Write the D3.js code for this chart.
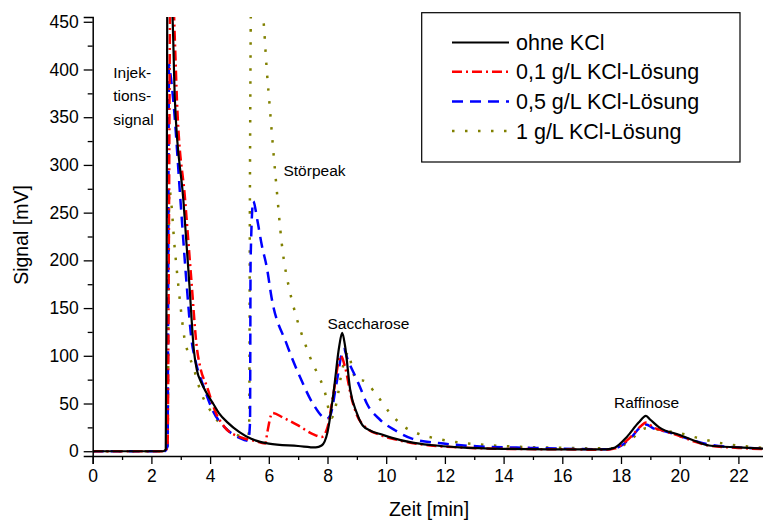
<!DOCTYPE html>
<html>
<head>
<meta charset="utf-8">
<script src="https://cdn.jsdelivr.net/npm/d3@7"></script>
<style>
  body { margin: 0; background: #fff; }
  svg { display: block; font-family: "Liberation Sans", Arial, sans-serif; }
</style>
</head>
<body>
<svg id="chart" width="763" height="522"></svg>
<script>
// chromatogram traces, [time in min, signal in mV]
const ohneKCl = [
  [0, 0], [2.4, 0], [2.49, 2], [2.52, 200], [2.54, 470], [2.66, 480], [2.72, 455],
  [2.8, 368], [3.09, 263], [3.3, 172], [3.45, 105], [3.55, 85], [3.7, 72], [3.88, 61],
  [4.1, 50], [4.3, 40], [4.6, 30], [5.0, 20], [5.4, 13], [6.0, 8], [7.0, 5.5], [7.6, 4],
  [7.8, 6], [8.0, 20], [8.2, 60], [8.4, 110], [8.5, 124], [8.6, 110], [8.77, 65],
  [9.0, 40], [9.2, 27], [9.5, 21], [9.8, 18], [10.2, 14], [10.9, 9], [11.5, 6.5],
  [12.5, 4], [14, 2.5], [16, 2], [17.5, 2], [17.8, 4], [18.2, 15], [18.6, 30],
  [18.85, 37], [19.0, 33], [19.3, 25], [20, 17], [20.5, 11], [21, 6], [22, 4], [23, 2.5]
];
const kcl01 = [
  [0, 0], [2.45, 0], [2.55, 5], [2.6, 250], [2.64, 470], [2.74, 475], [2.8, 430],
  [2.87, 368], [3.15, 263], [3.36, 180], [3.55, 108], [3.65, 90], [3.9, 67], [4.2, 40],
  [4.5, 25], [5.0, 15], [5.5, 11], [5.88, 8], [5.95, 20], [6.12, 40], [6.5, 35],
  [7.0, 27], [7.5, 18], [7.8, 15], [8.0, 25], [8.2, 60], [8.45, 100], [8.6, 88],
  [8.8, 58], [9.0, 38], [9.3, 25], [9.8, 17], [10.5, 11], [11.5, 6], [12.5, 4],
  [14, 2.5], [16, 2], [17.5, 1.5], [17.8, 3], [18.3, 14], [18.7, 27], [18.85, 30],
  [19.1, 25], [19.5, 21], [20, 16], [20.5, 10], [21, 6], [22, 3.5], [23, 2]
];
const kcl05 = [
  [0, 0], [2.45, 0], [2.55, 5], [2.6, 405], [2.65, 395], [2.75, 366], [2.99, 263],
  [3.2, 175], [3.37, 116], [3.5, 95], [3.8, 66], [4.1, 42], [4.5, 25], [5.0, 14],
  [5.3, 11], [5.36, 30], [5.38, 200], [5.47, 262], [5.61, 242], [5.76, 216],
  [5.93, 193], [6.1, 160], [6.6, 113], [7.06, 78], [7.5, 50], [7.97, 34], [8.1, 38],
  [8.3, 70], [8.55, 107], [8.7, 95], [9.0, 75], [9.11, 67], [9.34, 50], [9.79, 33],
  [10.3, 22], [10.9, 13], [11.95, 8], [13.2, 5], [14.9, 3.5], [17.5, 2], [17.8, 3],
  [18.3, 13], [18.7, 26], [18.85, 28], [19.1, 24], [19.5, 21], [20, 16], [20.5, 11],
  [21, 7], [22, 4], [23, 2.5]
];
const kcl1 = [
  [0, 0], [2.45, 0], [2.55, 3], [2.61, 274], [2.8, 211], [2.97, 158], [3.14, 116],
  [3.25, 103], [3.43, 88], [3.66, 64], [4.0, 43], [4.34, 29], [4.78, 19], [5.25, 15],
  [5.33, 20], [5.36, 300], [5.4, 480], [5.7, 480], [5.81, 455], [5.93, 400],
  [6.04, 358], [6.15, 316], [6.27, 274], [6.44, 218], [6.72, 167], [6.83, 153],
  [7.4, 99], [7.91, 62], [8.14, 35], [8.3, 50], [8.5, 85], [8.71, 104], [8.85, 85],
  [9.0, 74], [9.2, 74], [9.67, 59], [10.13, 40], [10.6, 26], [11.04, 19], [11.83, 12.5],
  [13.2, 7], [14.3, 5], [16, 3.5], [17.6, 3], [18, 5], [18.4, 14], [18.85, 24],
  [19.2, 23], [19.6, 21], [20.0, 19], [20.6, 14], [21.5, 8], [22.3, 5], [23, 3]
];

const seriesNames = ["ohne KCl", "0,1 g/L KCl-Lösung", "0,5 g/L KCl-Lösung", "1 g/L KCl-Lösung"];
const seriesData = [ohneKCl, kcl01, kcl05, kcl1];

const xTicks = d3.range(0, 24, 1);
const yTicks = d3.range(0, 451, 25);

const peakLabels = [
  { lines: ["Injek-", "tions-", "signal"], t: 0.7, v: 397 },
  { lines: ["Störpeak"], t: 6.5, v: 294 },
  { lines: ["Saccharose"], t: 8.0, v: 134 },
  { lines: ["Raffinose"], t: 17.76, v: 51 }
];

const styles = [
  { color: "#000000", dash: null, width: 2.2 },
  { color: "#ff0000", dash: "10,4,2,4", width: 2.5 },
  { color: "#0000ff", dash: "11,7", width: 2.5 },
  { color: "#808000", dash: "2.5,10.5", width: 2.5 }
];

const svg = d3.select("#chart");

const x = d3.scaleLinear().domain([0, 23]).range([92.7, 92.7 + 23 * 29.35]);
const y = d3.scaleLinear().domain([-5, 455]).range([456, 17]);

svg.append("defs")
  .append("clipPath")
  .attr("id", "plot-clip")
  .append("rect")
  .attr("x", x(0))
  .attr("y", y(455))
  .attr("width", 763 - x(0))
  .attr("height", y(-5) - y(455));

const line = d3.line()
  .x((d) => x(d[0]))
  .y((d) => y(d[1]))
  .curve(d3.curveMonotoneX);

const traces = svg.append("g").attr("clip-path", "url(#plot-clip)");

// draw back to front so the black trace sits on top
[3, 2, 1, 0].forEach((i) => {
  traces.append("path")
    .datum(seriesData[i])
    .attr("d", line)
    .attr("fill", "none")
    .attr("stroke", styles[i].color)
    .attr("stroke-width", styles[i].width)
    .attr("stroke-dasharray", styles[i].dash)
    .attr("stroke-linejoin", "round");
});

// axes
const xAxis = d3.axisBottom(x)
  .tickValues(xTicks)
  .tickSizeOuter(0)
  .tickSize(8)
  .tickFormat((d) => (d % 2 === 0 ? d : ""));

const yAxis = d3.axisLeft(y)
  .tickValues(yTicks)
  .tickSizeOuter(0)
  .tickSize(9)
  .tickFormat((d) => (d % 50 === 0 ? d : ""));

const gx = svg.append("g")
  .attr("transform", `translate(0, ${y(-5)})`)
  .call(xAxis);

const gy = svg.append("g")
  .attr("transform", `translate(${x(0)}, 0)`)
  .call(yAxis);

[gx, gy].forEach((g) => {
  g.select(".domain").attr("stroke-width", 1.5);
  g.selectAll(".tick line").attr("stroke-width", 1.3);
  g.selectAll(".tick text")
    .attr("font-size", 17.5)
    .attr("font-family", "Liberation Sans, Arial, sans-serif")
    .attr("fill", "#000");
});

gx.selectAll(".tick")
  .filter((d) => d % 2 !== 0)
  .select("line")
  .attr("y2", 4);
gx.selectAll(".tick text").attr("y", 14);

gy.selectAll(".tick")
  .filter((d) => d % 50 !== 0)
  .select("line")
  .attr("x2", -5);
gy.selectAll(".tick text").attr("x", -14);

// axis titles
svg.append("text")
  .attr("x", 429)
  .attr("y", 516)
  .attr("text-anchor", "middle")
  .attr("font-size", 19.5)
  .text("Zeit [min]");

svg.append("text")
  .attr("transform", `translate(28, 235) rotate(-90)`)
  .attr("text-anchor", "middle")
  .attr("font-size", 19.5)
  .text("Signal [mV]");

// peak annotations
peakLabels.forEach((p) => {
  const t = svg.append("text")
    .attr("x", x(p.t))
    .attr("y", y(p.v))
    .attr("font-size", 15.5);
  p.lines.forEach((s, k) => {
    t.append("tspan")
      .attr("x", x(p.t))
      .attr("dy", k === 0 ? "0.35em" : 23.5)
      .text(s);
  });
});

// legend
const legend = svg.append("g");
legend.append("rect")
  .attr("x", 421.7)
  .attr("y", 12.7)
  .attr("width", 318.3)
  .attr("height", 149.3)
  .attr("fill", "#fff")
  .attr("stroke", "#000")
  .attr("stroke-width", 1.2);

const legendRows = [42.5, 71.7, 101.5, 131];
seriesNames.forEach((name, i) => {
  legend.append("line")
    .attr("x1", 452)
    .attr("x2", 509)
    .attr("y1", legendRows[i])
    .attr("y2", legendRows[i])
    .attr("stroke", styles[i].color)
    .attr("stroke-width", styles[i].width)
    .attr("stroke-dasharray", styles[i].dash);
  legend.append("text")
    .attr("x", 516)
    .attr("y", legendRows[i] + 7.5)
    .attr("font-size", 21.5)
    .text(name);
});
</script>
</body>
</html>
